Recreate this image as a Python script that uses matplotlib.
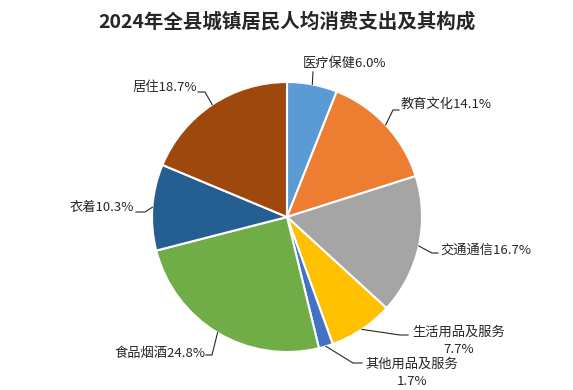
import numpy as np
import matplotlib

matplotlib.use("Agg")
import matplotlib.pyplot as plt

plt.rcParams["font.family"] = ["Noto Sans CJK SC", "DejaVu Sans"]

# データ（2024年 全県城鎮居民 人均消費支出構成, %）
categories = ["医疗保健", "教育文化", "交通通信", "生活用品及服务",
              "其他用品及服务", "食品烟酒", "衣着", "居住"]
shares = [6.0, 14.1, 16.7, 7.7, 1.7, 24.8, 10.3, 18.7]
colors = ["#5B9BD5", "#ED7D31", "#A5A5A5", "#FFC000",
          "#4472C4", "#70AD47", "#255E91", "#9E480E"]

# ラベル配置（ピクセル座標）: 引出線の折れ点, テキスト位置, 揃え, 2行表示
layout = [
    ([(313, 72)], (303, 63), "left", False),
    ([(393, 110), (399, 110)], (401, 104), "left", False),
    ([(432, 253), (438, 253)], (440, 250), "left", False),
    ([(400, 335), (408, 335)], (459, 341), "center", True),
    ([(353, 363), (362, 363)], (412, 373), "center", True),
    ([(212, 355), (206, 355)], (205, 353), "right", False),
    ([(145, 212), (136, 212)], (134, 207), "right", False),
    ([(205, 92), (198, 92)], (197, 88), "right", False),
]

W, H = 573, 390
cx, cy, r = 287, 217, 135

fig = plt.figure(figsize=(W / 100, H / 100), dpi=100)
ax = fig.add_axes([0, 0, 1, 1])

# y 軸を反転させたピクセル座標系: 上から時計回り = startangle -90, counterclock
wedges, _ = ax.pie(shares, colors=colors, startangle=-90, counterclock=True,
                   center=(cx, cy), radius=r,
                   wedgeprops=dict(edgecolor="white", linewidth=1.5))
ax.set_xlim(0, W)
ax.set_ylim(H, 0)
ax.set_aspect("equal")
ax.axis("off")

for w, name, val, (pts, tpos, ha, two) in zip(wedges, categories, shares, layout):
    mid = np.deg2rad((w.theta1 + w.theta2) / 2)
    start = (cx + r * np.cos(mid), cy + r * np.sin(mid))
    xs = [start[0]] + [p[0] for p in pts]
    ys = [start[1]] + [p[1] for p in pts]
    ax.plot(xs, ys, color="#262626", linewidth=0.8, zorder=3)
    label = f"{name}\n{val:.1f}%" if two else f"{name}{val:.1f}%"
    ax.text(tpos[0], tpos[1], label, ha=ha, va="center", fontsize=9.5,
            color="#262626", multialignment="center", linespacing=1.45)

ax.text(W / 2, 22, "2024年全县城镇居民人均消费支出及其构成", ha="center",
        va="center", fontsize=14, fontweight="bold", color="#262626")

fig.savefig("out.png", dpi=100)
